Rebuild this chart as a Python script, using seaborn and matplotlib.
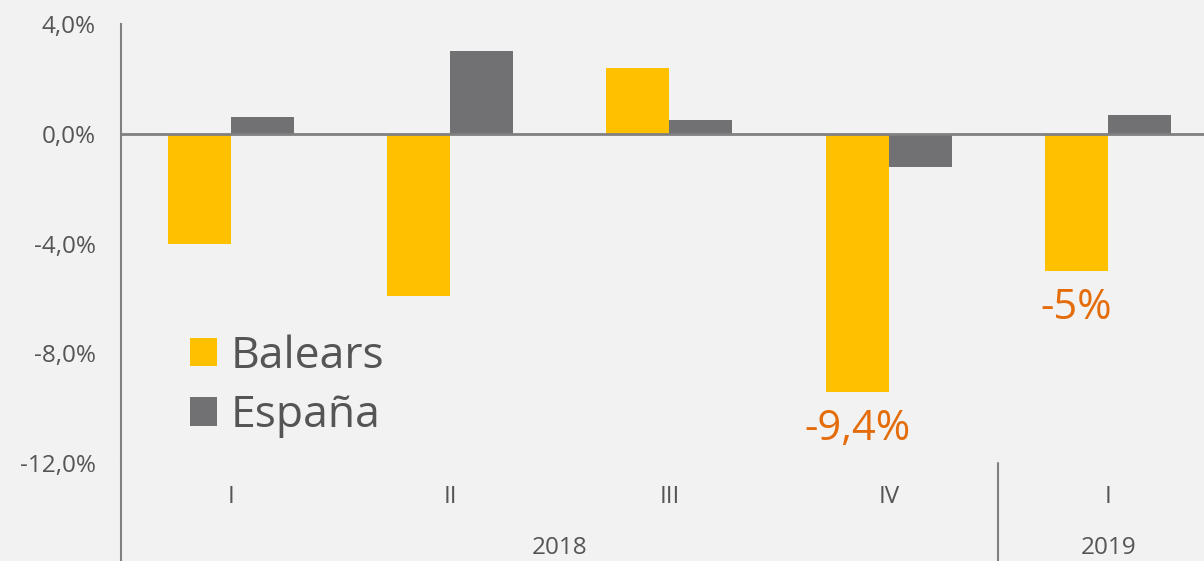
import pandas as pd
import matplotlib.pyplot as plt
import seaborn as sns


quarters = ["I", "II", "III", "IV", "I"]
years = ["2018", "2018", "2018", "2018", "2019"]
balears = [-4.0, -5.9, 2.4, -9.4, -5.0]
espana = [0.6, 3.0, 0.5, -1.2, 0.7]
callouts = ["", "", "", "-9,4%", "-5%"]

periods = [y + "-" + q for y, q in zip(years, quarters)]
df = pd.DataFrame({
    "period": periods * 2,
    "serie": ["Balears"] * 5 + ["España"] * 5,
    "valor": balears + espana,
})

sns.set_theme(style="white")
plt.rcParams['font.family'] = ['Open Sans', 'DejaVu Sans']
txt = "#555555"

fig = plt.figure(figsize=(12.04, 5.61), dpi=100, facecolor="#f2f2f2")
ax = fig.add_axes([121 / 1204, 98 / 561, 1083 / 1204, 439 / 561])
ax.set_facecolor("#f2f2f2")

sns.barplot(data=df, x="period", y="valor", hue="serie", order=periods,
            palette={"Balears": "#FFC000", "España": "#717173"},
            width=0.574, saturation=1, linewidth=0, ax=ax)

ax.set_ylim(-12, 4)
ax.set_xlim(-0.5, 4.437)
ax.set_yticks([4, 0, -4, -8, -12])
ax.set_yticklabels(["4,0%", "0,0%", "-4,0%", "-8,0%", "-12,0%"])
ax.set_xticks(range(5))
ax.set_xticklabels(quarters)
ax.set_xlabel("")
ax.set_ylabel("")
ax.tick_params(axis="y", direction="in", length=7, width=1.5, color="#808080",
               labelsize=17.5, labelcolor=txt, pad=18)
ax.tick_params(axis="x", length=0, labelsize=17.5, labelcolor=txt, pad=16)

for s in ["top", "right", "bottom"]:
    ax.spines[s].set_visible(False)
ax.spines["left"].set_color("#808080")
ax.spines["left"].set_linewidth(1.5)
ax.axhline(0, color="#808080", lw=2)

# year row and separators under the axis
trans = ax.get_xaxis_transform()
ax.plot([-0.5, -0.5], [0, -0.23], transform=trans, color="#808080", lw=1.5, clip_on=False)
ax.plot([3.5, 3.5], [0, -0.23], transform=trans, color="#808080", lw=1.5, clip_on=False)
ax.text(1.5, -0.194, "2018", transform=trans, ha="center", va="center", fontsize=17.5, color=txt)
ax.text(4, -0.194, "2019", transform=trans, ha="center", va="center", fontsize=17.5, color=txt)

for i, lab in enumerate(callouts):
    if lab:
        ax.annotate(lab, (i - 0.1435, balears[i]), xytext=(0, -11.5), textcoords="offset points",
                    ha="center", va="top", fontsize=30, color="#E46C0A")

handles, labels = ax.get_legend_handles_labels()
ax.legend(handles, labels, loc="upper left", bbox_to_anchor=(190 / 1204, 0.404),
          bbox_transform=fig.transFigure, frameon=False, fontsize=32,
          handlelength=0.61, handleheight=0.61, handletextpad=0.3,
          labelspacing=0.335, borderpad=0, borderaxespad=0, labelcolor=txt)

fig.savefig("out.png", dpi=100, facecolor=fig.get_facecolor())
